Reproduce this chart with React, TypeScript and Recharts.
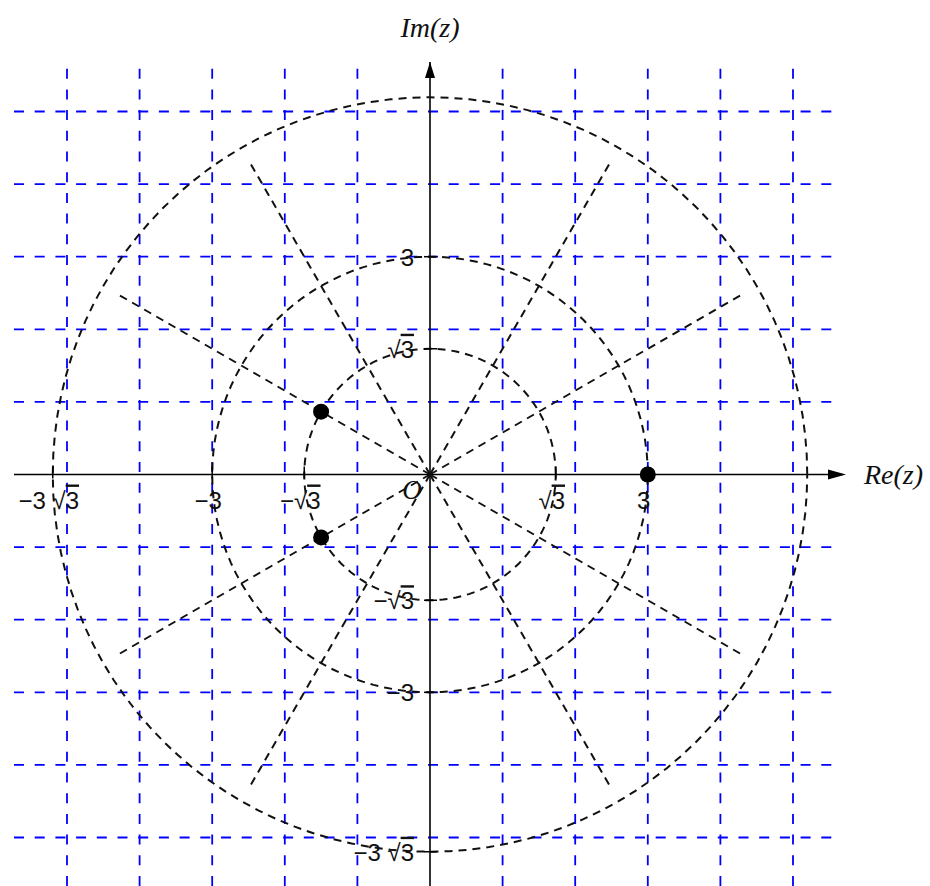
import React from "react";
import {
  ScatterChart,
  Scatter,
  XAxis,
  YAxis,
  ReferenceLine,
  ReferenceDot,
} from "recharts";

const S3 = Math.sqrt(3);

// plot window (units)
const X_MIN = -5.73;
const X_MAX = 5.675;
const Y_MIN = -5.668;
const Y_MAX = 5.682;

const GRID_X = [-5, -4, -3, -2, -1, 1, 2, 3, 4, 5];
const GRID_Y = [-5, -4, -3, -2, -1, 1, 2, 3, 4, 5];

const CIRCLE_RADII = [S3, 3, 3 * S3];
const RAY_ANGLES = [30, 60, 120, 150, 210, 240, 300, 330];
const RAY_LENGTH = 5;

const ROOT_POINTS = [
  { x: 3, y: 0 },
  { x: -1.5, y: S3 / 2 },
  { x: -1.5, y: -S3 / 2 },
];

const X_TICKS = [-3 * S3, -3, -S3, S3, 3];
const X_TICK_LABELS = ["−3 √3", "−3", "−√3", "√3", "3"];
const Y_TICKS = [3, S3, -S3, -3, -3 * S3];
const Y_TICK_LABELS = ["3", "√3", "−√3", "−3", "−3 √3"];

const BLUE = "#0000ff";
const INK = "#111";
const NUM_FONT = "'Liberation Sans', Arial, sans-serif";
const ITALIC_FONT = "'Liberation Serif', 'Times New Roman', serif";

const circleData = (r: number) => {
  const pts = [];
  for (let d = 0; d <= 360; d += 3) {
    const a = (d * Math.PI) / 180;
    pts.push({ x: r * Math.cos(a), y: r * Math.sin(a) });
  }
  return pts;
};

const rayData = (deg: number) => {
  const a = (deg * Math.PI) / 180;
  return [
    { x: 0, y: 0 },
    { x: RAY_LENGTH * Math.cos(a), y: RAY_LENGTH * Math.sin(a) },
  ];
};

const NoShape = () => <g />;

const dashed = { stroke: INK, strokeWidth: 2, strokeDasharray: "8 6", fill: "none" };

// text with a radical: part after √ gets an overline
const MathText = ({ x, y, label, anchor, size }: any) => {
  const i = label.indexOf("√");
  if (i < 0) {
    return (
      <text x={x} y={y} textAnchor={anchor} fontFamily={NUM_FONT} fontSize={size} fill={INK}>
        {label}
      </text>
    );
  }
  return (
    <text x={x} y={y} textAnchor={anchor} fontFamily={NUM_FONT} fontSize={size} fill={INK}>
      <tspan>{label.slice(0, i + 1)}</tspan>
      <tspan textDecoration="overline">{label.slice(i + 1)}</tspan>
    </text>
  );
};

const App = () => {
  return (
    <div style={{ position: "absolute", left: 0, top: 0, width: 930, height: 886, background: "#fff" }}>
      <ScatterChart width={930} height={886} margin={{ top: 62, right: 88, bottom: 0, left: 14 }}>
        <XAxis type="number" dataKey="x" domain={[X_MIN, X_MAX]} allowDataOverflow hide />
        <YAxis type="number" dataKey="y" domain={[Y_MIN, Y_MAX]} allowDataOverflow hide />

        {GRID_X.map((v) => (
          <ReferenceLine key={`gx${v}`} x={v} stroke={BLUE} strokeWidth={1.8} strokeDasharray="10 10.7" />
        ))}
        {GRID_Y.map((v) => (
          <ReferenceLine key={`gy${v}`} y={v} stroke={BLUE} strokeWidth={1.8} strokeDasharray="10 10.7" />
        ))}

        {CIRCLE_RADII.map((r, i) => (
          <Scatter
            key={`c${i}`}
            data={circleData(r)}
            line={dashed}
            lineType="joint"
            shape={NoShape}
            isAnimationActive={false}
          />
        ))}
        {RAY_ANGLES.map((deg) => (
          <Scatter
            key={`r${deg}`}
            data={rayData(deg)}
            line={dashed}
            lineType="joint"
            shape={NoShape}
            isAnimationActive={false}
          />
        ))}

        {/* axes */}
        <ReferenceLine y={0} stroke="#000" strokeWidth={1.6} />
        <ReferenceLine x={0} stroke="#000" strokeWidth={1.6} />
        <ReferenceDot
          x={X_MAX}
          y={0}
          ifOverflow="visible"
          shape={(p: any) => (
            <polygon points={`${p.cx + 4},${p.cy} ${p.cx - 14},${p.cy - 5} ${p.cx - 14},${p.cy + 5}`} fill="#000" />
          )}
        />
        <ReferenceDot
          x={0}
          y={Y_MAX}
          ifOverflow="visible"
          shape={(p: any) => (
            <polygon points={`${p.cx},${p.cy} ${p.cx - 5},${p.cy + 16} ${p.cx + 5},${p.cy + 16}`} fill="#000" />
          )}
        />

        {/* axis ticks and labels */}
        {X_TICKS.map((v, i) => (
          <ReferenceDot
            key={`xt${i}`}
            x={v}
            y={0}
            ifOverflow="visible"
            shape={(p: any) => (
              <g>
                <line x1={p.cx} x2={p.cx} y1={p.cy - 8} y2={p.cy + 4} stroke="#000" strokeWidth={1.5} />
                <MathText x={p.cx - 4} y={p.cy + 34} label={X_TICK_LABELS[i]} anchor="middle" size={24} />
              </g>
            )}
          />
        ))}
        {Y_TICKS.map((v, i) => (
          <ReferenceDot
            key={`yt${i}`}
            x={0}
            y={v}
            ifOverflow="visible"
            shape={(p: any) => (
              <g>
                <line x1={p.cx - 6} x2={p.cx + 7} y1={p.cy} y2={p.cy} stroke="#000" strokeWidth={1.5} />
                <MathText x={p.cx - 16} y={p.cy + 9} label={Y_TICK_LABELS[i]} anchor="end" size={24} />
              </g>
            )}
          />
        ))}

        <Scatter
          data={ROOT_POINTS}
          fill="#000"
          isAnimationActive={false}
          shape={(p: any) => <circle cx={p.cx} cy={p.cy} r={8} fill="#000" />}
        />

        <ReferenceDot
          x={0}
          y={0}
          ifOverflow="visible"
          shape={(p: any) => (
            <text x={p.cx - 18} y={p.cy + 24} textAnchor="middle" fontFamily={ITALIC_FONT} fontStyle="italic" fontSize={27} fill={INK}>
              O
            </text>
          )}
        />
        <ReferenceDot
          x={0}
          y={Y_MAX}
          ifOverflow="visible"
          shape={(p: any) => (
            <text x={p.cx} y={p.cy - 25} textAnchor="middle" fontFamily={ITALIC_FONT} fontStyle="italic" fontSize={28} fill={INK}>
              Im(z)
            </text>
          )}
        />
        <ReferenceDot
          x={X_MAX}
          y={0}
          ifOverflow="visible"
          shape={(p: any) => (
            <text x={p.cx + 22} y={p.cy + 9} textAnchor="start" fontFamily={ITALIC_FONT} fontStyle="italic" fontSize={28} fill={INK}>
              Re(z)
            </text>
          )}
        />
      </ScatterChart>
    </div>
  );
};

export default App;
